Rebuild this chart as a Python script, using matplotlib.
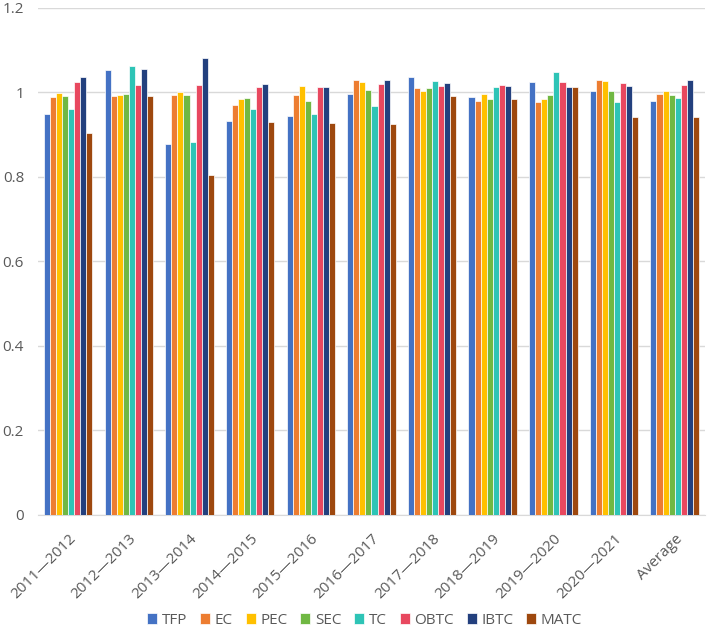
import matplotlib
matplotlib.use('Agg')
import matplotlib.pyplot as plt
import numpy as np

plt.rcParams['font.family'] = ['Open Sans', 'DejaVu Sans']

periods = ['2011—2012', '2012—2013', '2013—2014', '2014—2015', '2015—2016',
           '2016—2017', '2017—2018', '2018—2019', '2019—2020', '2020—2021', 'Average']

TFP  = [0.949, 1.052, 0.878, 0.931, 0.943, 0.996, 1.036, 0.989, 1.025, 1.003, 0.980]
EC   = [0.989, 0.990, 0.994, 0.970, 0.994, 1.029, 1.010, 0.978, 0.977, 1.029, 0.995]
PEC  = [0.999, 0.994, 1.001, 0.983, 1.015, 1.024, 1.002, 0.995, 0.983, 1.026, 1.002]
SEC  = [0.990, 0.996, 0.994, 0.987, 0.979, 1.006, 1.010, 0.983, 0.994, 1.002, 0.994]
TC   = [0.961, 1.062, 0.883, 0.961, 0.949, 0.967, 1.026, 1.012, 1.048, 0.976, 0.985]
OBTC = [1.025, 1.017, 1.016, 1.012, 1.013, 1.019, 1.014, 1.016, 1.023, 1.022, 1.018]
IBTC = [1.037, 1.054, 1.081, 1.020, 1.013, 1.028, 1.021, 1.014, 1.012, 1.014, 1.029]
MATC = [0.904, 0.992, 0.803, 0.930, 0.926, 0.924, 0.990, 0.983, 1.013, 0.941, 0.941]

series = [('TFP', TFP), ('EC', EC), ('PEC', PEC), ('SEC', SEC),
          ('TC', TC), ('OBTC', OBTC), ('IBTC', IBTC), ('MATC', MATC)]
colors = ['#4472C4', '#ED7D31', '#FFC000', '#70B843',
          '#2EC4B6', '#E8485F', '#23407E', '#9E480E']

fig = plt.figure(figsize=(7.15, 6.34), dpi=100)
ax = fig.add_axes([0.053, 0.188, 0.933, 0.8])

x = np.arange(len(periods))
w = 0.1
for i, (name, vals) in enumerate(series):
    ax.bar(x + (i - 3.5) * w, vals, w, color=colors[i], label=name,
           edgecolor='white', linewidth=0.5, zorder=3)

ax.set_xlim(-0.5, len(periods) - 0.5)
ax.set_ylim(0, 1.2)
yt = [0, 0.2, 0.4, 0.6, 0.8, 1.0, 1.2]
ax.set_yticks(yt)
ax.set_yticklabels(['0', '0.2', '0.4', '0.6', '0.8', '1', '1.2'])
ax.grid(axis='y', color='#D9D9D9', linewidth=1, zorder=0)
for s in ['top', 'right', 'left']:
    ax.spines[s].set_visible(False)
ax.spines['bottom'].set_color('#D9D9D9')
ax.tick_params(axis='both', length=0, colors='#595959', labelsize=11)
ax.tick_params(axis='y', pad=10)
ax.tick_params(axis='x', pad=12)
ax.set_xticks(x)
ax.set_xticklabels(periods, rotation=45, ha='right', rotation_mode='anchor')

fig.legend(loc='lower center', ncol=8, frameon=False, fontsize=11,
           bbox_to_anchor=(0.51, -0.012), handlelength=0.65, handleheight=0.65,
           columnspacing=0.85, handletextpad=0.3, labelcolor='#595959')

plt.savefig('out.png', dpi=100)
